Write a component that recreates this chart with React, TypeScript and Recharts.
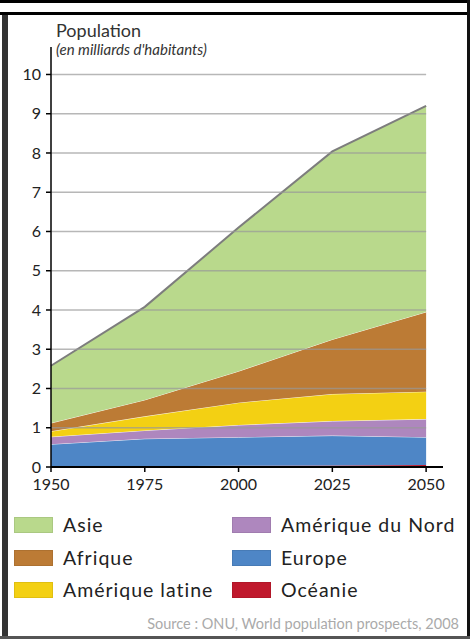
import { AreaChart, Area, XAxis, YAxis, ReferenceLine } from 'recharts';

// population mondiale par continent (milliards d'habitants)
const years = [1950, 1975, 2000, 2025, 2050];
const oceanie = [0.01, 0.02, 0.03, 0.04, 0.05];
const europe = [0.57, 0.7, 0.73, 0.76, 0.71];
const ameriqueNord = [0.19, 0.21, 0.31, 0.37, 0.46];
const ameriqueLatine = [0.14, 0.36, 0.57, 0.69, 0.7];
const afrique = [0.21, 0.42, 0.8, 1.39, 2.03];
const asie = [1.46, 2.37, 3.66, 4.79, 5.25];

const yTicks = [0, 1, 2, 3, 4, 5, 6, 7, 8, 9, 10];
const gridValues = [1, 2, 3, 4, 5, 6, 7, 8, 9, 10];

// ordre d'empilement, du bas vers le haut
const series = [
  { key: 'oceanie', name: 'Océanie', values: oceanie, color: '#c0192d' },
  { key: 'europe', name: 'Europe', values: europe, color: '#4e86c6' },
  { key: 'ameriqueNord', name: 'Amérique du Nord', values: ameriqueNord, color: '#ae87be' },
  { key: 'ameriqueLatine', name: 'Amérique latine', values: ameriqueLatine, color: '#f3d013' },
  { key: 'afrique', name: 'Afrique', values: afrique, color: '#bc7b35' },
  { key: 'asie', name: 'Asie', values: asie, color: '#b9d98c' },
];

// légende en deux colonnes
const legendLeft = ['asie', 'afrique', 'ameriqueLatine'];
const legendRight = ['ameriqueNord', 'europe', 'oceanie'];

const data = years.map((year, i) => {
  const row: any = { year };
  series.forEach((s) => {
    row[s.key] = s.values[i];
  });
  return row;
});

const font = "Lato, 'Open Sans', sans-serif";

function LegendItem({ k, left, top }: { k: string; left: number; top: number }) {
  const s = series.find((x) => x.key === k)!;
  return (
    <div style={{ position: 'absolute', left, top, display: 'flex', alignItems: 'center' }}>
      <div style={{ width: 39, height: 16, background: s.color, boxShadow: 'inset 0 0 0 1px rgba(0,0,0,0.08)' }} />
      <span style={{ marginLeft: 10, fontSize: 19.5, color: '#222', letterSpacing: 1, lineHeight: '16px' }}>{s.name}</span>
    </div>
  );
}

export default function App() {
  return (
    <div style={{ position: 'absolute', left: 0, top: 0, width: 475, height: 639, background: '#fff', fontFamily: font, overflow: 'hidden' }}>
      {/* cadre */}
      <div style={{ position: 'absolute', left: 0, top: 0, width: 470, height: 3, background: '#000' }} />
      <div style={{ position: 'absolute', left: 0, top: 12, width: 470, height: 3, background: '#000' }} />
      <div style={{ position: 'absolute', left: 467, top: 0, width: 3, height: 639, background: '#111' }} />
      <div style={{ position: 'absolute', left: 2, top: 15, width: 6, height: 624, background: '#333' }} />
      <div style={{ position: 'absolute', left: 0, top: 636, width: 470, height: 3, background: '#555' }} />

      <div style={{ position: 'absolute', left: 0, top: 0 }}>
        <AreaChart width={475} height={500} data={data} margin={{ top: 47, right: 32, bottom: 3, left: 0 }}>
          <XAxis
            dataKey="year"
            type="number"
            domain={[1950, 2054.5]}
            ticks={years}
            height={30}
            tickSize={5}
            tickMargin={7}
            axisLine={{ stroke: '#000', strokeWidth: 2 }}
            tickLine={{ stroke: '#000', strokeWidth: 1.5 }}
            tick={{ fontSize: 16, fill: '#222', fontFamily: font }}
          />
          <YAxis
            type="number"
            domain={[0, 10.7]}
            ticks={yTicks}
            width={51}
            tickSize={5}
            tickMargin={5}
            axisLine={{ stroke: '#000', strokeWidth: 1.5 }}
            tickLine={{ stroke: '#000', strokeWidth: 1.5 }}
            tick={{ fontSize: 16, fill: '#222', fontFamily: font }}
          />
          {series.map((s) => (
            <Area
              key={s.key}
              dataKey={s.key}
              name={s.name}
              type="linear"
              stackId="1"
              fill={s.color}
              fillOpacity={1}
              stroke={s.key === 'asie' ? '#7d7d7d' : s.key === 'oceanie' ? 'none' : '#ffffff'}
              strokeWidth={s.key === 'asie' ? 2 : 1}
              strokeOpacity={s.key === 'asie' ? 1 : 0.85}
              isAnimationActive={false}
              dot={false}
              activeDot={false}
            />
          ))}
          {gridValues.map((v) => (
            <ReferenceLine
              key={v}
              segment={[{ x: 1950, y: v }, { x: 2050, y: v }]}
              stroke="#999"
              strokeOpacity={0.7}
              strokeWidth={1.5}
              ifOverflow="visible"
            />
          ))}
        </AreaChart>
      </div>

      {/* titre */}
      <div style={{ position: 'absolute', left: 56, top: 21, fontSize: 18, lineHeight: '18px', color: '#333' }}>Population</div>
      <div style={{ position: 'absolute', left: 56, top: 42, fontSize: 15, lineHeight: '15px', fontStyle: 'italic', color: '#333' }}>
        (en milliards d'habitants)
      </div>

      {/* légende */}
      {legendLeft.map((k, i) => (
        <LegendItem key={k} k={k} left={14} top={517 + i * 32.5} />
      ))}
      {legendRight.map((k, i) => (
        <LegendItem key={k} k={k} left={232} top={517 + i * 32.5} />
      ))}

      <div style={{ position: 'absolute', right: 16, top: 617, fontSize: 14.5, lineHeight: 1, color: '#aaa' }}>
        Source : ONU, World population prospects, 2008
      </div>
    </div>
  );
}
